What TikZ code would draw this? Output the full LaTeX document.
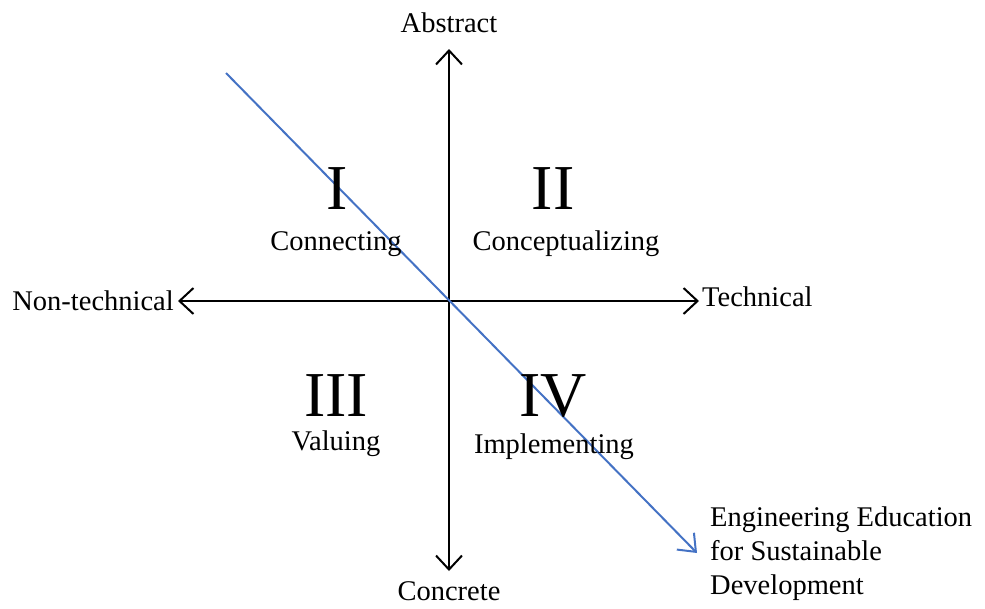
\documentclass[tikz,border=0pt]{standalone}
\usepackage{fontspec}
\setmainfont{Liberation Serif}
\usetikzlibrary{arrows.meta}
\definecolor{lineblue}{RGB}{68,114,196}
\begin{document}
\begin{tikzpicture}[x=1pt,y=-1pt,
  axis/.style={line width=2pt,{Straight Barb[length=14pt,width=26pt,line width=2pt]}-{Straight Barb[length=14pt,width=26pt,line width=2pt]}},
  diag/.style={line width=2pt,draw=lineblue,-{Straight Barb[length=15pt,width=24pt,line width=2pt]}},
  lbl/.style={font=\fontsize{28.5}{34}\selectfont,inner sep=0pt},
  num/.style={font=\fontsize{64}{70}\selectfont,inner sep=0pt}]
\useasboundingbox (0,0) rectangle (985,608);
\coordinate (top) at (449,49);
\coordinate (bot) at (449,571);
\coordinate (left) at (178,301);
\coordinate (right) at (699,301);
\coordinate (ds) at (226,73);
\coordinate (de) at (697,553);
\draw[axis] (bot) -- (top);
\draw[axis] (left) -- (right);
\draw[diag] (ds) -- (de);
\node[lbl,anchor=south] (abs) at (449,33) {Abstract};
\node[lbl,anchor=north] (con) at (449,581) {Concrete};
\node[lbl,anchor=east] (nt) at (174,301) {Non-technical};
\node[lbl,anchor=west] (tech) at (702,297) {Technical};
\node[num] (n1) at (337,189) {I};
\node[num] (n2) at (553,189) {II};
\node[num] (n3) at (336,396) {III};
\node[num] (n4) at (553,396) {IV};
\node[lbl] (l1) at (336,244) {Connecting};
\node[lbl] (l2) at (566,244) {Conceptualizing};
\node[lbl] (l3) at (336,444) {Valuing};
\node[lbl] (l4) at (554,447) {Implementing};
\node[lbl,anchor=north west,align=left] (eesd) at (710,507) {Engineering Education\\for Sustainable\\Development};
\end{tikzpicture}
\end{document}
